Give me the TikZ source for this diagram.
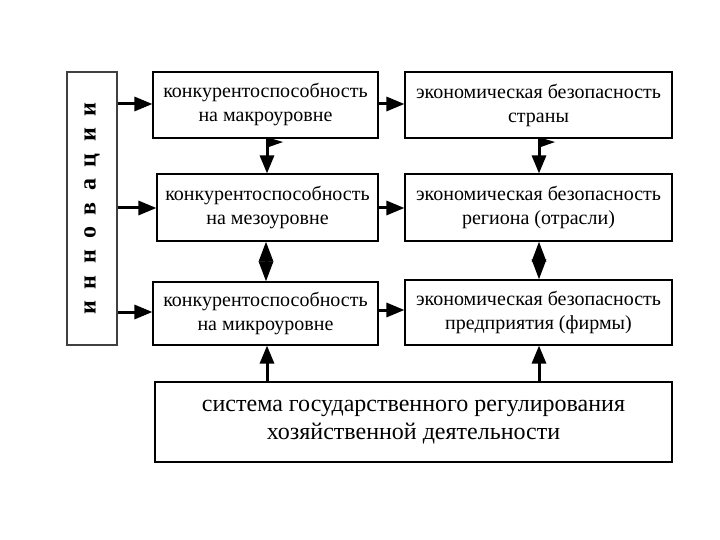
\documentclass[tikz,border=0pt]{standalone}
\usepackage{fontspec}
\setmainfont{Liberation Serif}
\usetikzlibrary{arrows.meta}
\newcommand{\lsp}{\hspace{11.5pt}}
\begin{document}
\begin{tikzpicture}[x=1pt,y=-1pt,
  box/.style={draw=black,line width=1.1pt,minimum height=66pt,align=center,font=\fontsize{20}{24}\selectfont,inner sep=0pt},
  arr/.style={line width=3pt,-{Triangle[length=18pt,width=14pt]}},
  darr/.style={line width=3pt,{Triangle[length=20pt,width=14pt]}-{Triangle[length=20pt,width=14pt]}}]
\useasboundingbox (0,0) rectangle (720,540);
\node[draw=black!75,line width=1.3pt,minimum width=50pt,minimum height=273pt,inner sep=0pt] (inn) at (92,208.5) {};
\node[rotate=90,font=\fontsize{24}{28}\selectfont\bfseries] at (inn.center) {и\lsp н\lsp н\lsp о\lsp в\lsp а\lsp ц\lsp и\lsp и};
\node[box,minimum width=225pt] (A) at (265.5,105) {конкурентоспособность\\на макроуровне};
\node[box,minimum width=221pt,minimum height=67pt] (B) at (267.5,207.5) {конкурентоспособность\\на мезоуровне};
\node[box,minimum width=225pt,minimum height=63pt] (C) at (265.5,313.5) {конкурентоспособность\\на микроуровне};
\node[box,minimum width=267pt] (D) at (538.5,105) {экономическая безопасность\\страны};
\node[box,minimum width=267pt,minimum height=67pt] (E) at (538.5,207.5) {экономическая безопасность\\региона (отрасли)};
\node[box,minimum width=267pt,minimum height=65pt] (F) at (538.5,312.5) {экономическая безопасность\\предприятия (фирмы)};
\node[box,minimum width=517pt,minimum height=80pt,font=\fontsize{24}{28}\selectfont] (G) at (413.5,422) {система государственного регулирования\\хозяйственной деятельности};
% innovation arrows
\draw[arr] (inn.east |- 0,104) -- (A.west |- 0,104);
\draw[arr] (inn.east |- 0,208) -- (B.west |- 0,208);
\draw[arr] (inn.east |- 0,312) -- (C.west |- 0,312);
% horizontal arrows
\draw[arr] (A.east |- 0,104) -- (D.west |- 0,104);
\draw[arr] (B.east |- 0,208) -- (E.west |- 0,208);
\draw[arr] (C.east |- 0,310) -- (F.west |- 0,310);
% flag arrows
\draw[arr] (A.south -| 267,0) -- (B.north -| 267,0);
\fill (266,137) -- (283,142) -- (266,148) -- cycle;
\draw[arr] (D.south -| 539,0) -- (E.north -| 539,0);
\fill (538,137) -- (555,142) -- (538,148) -- cycle;
% double arrows
\draw[darr] (B.south -| 266,0) -- (C.north -| 266,0);
\draw[darr] (E.south -| 539,0) -- (F.north -| 539,0);
% from G
\draw[arr] (G.north -| 267,0) -- (C.south -| 267,0);
\draw[arr] (G.north -| 539,0) -- (F.south -| 539,0);
\end{tikzpicture}
\end{document}
